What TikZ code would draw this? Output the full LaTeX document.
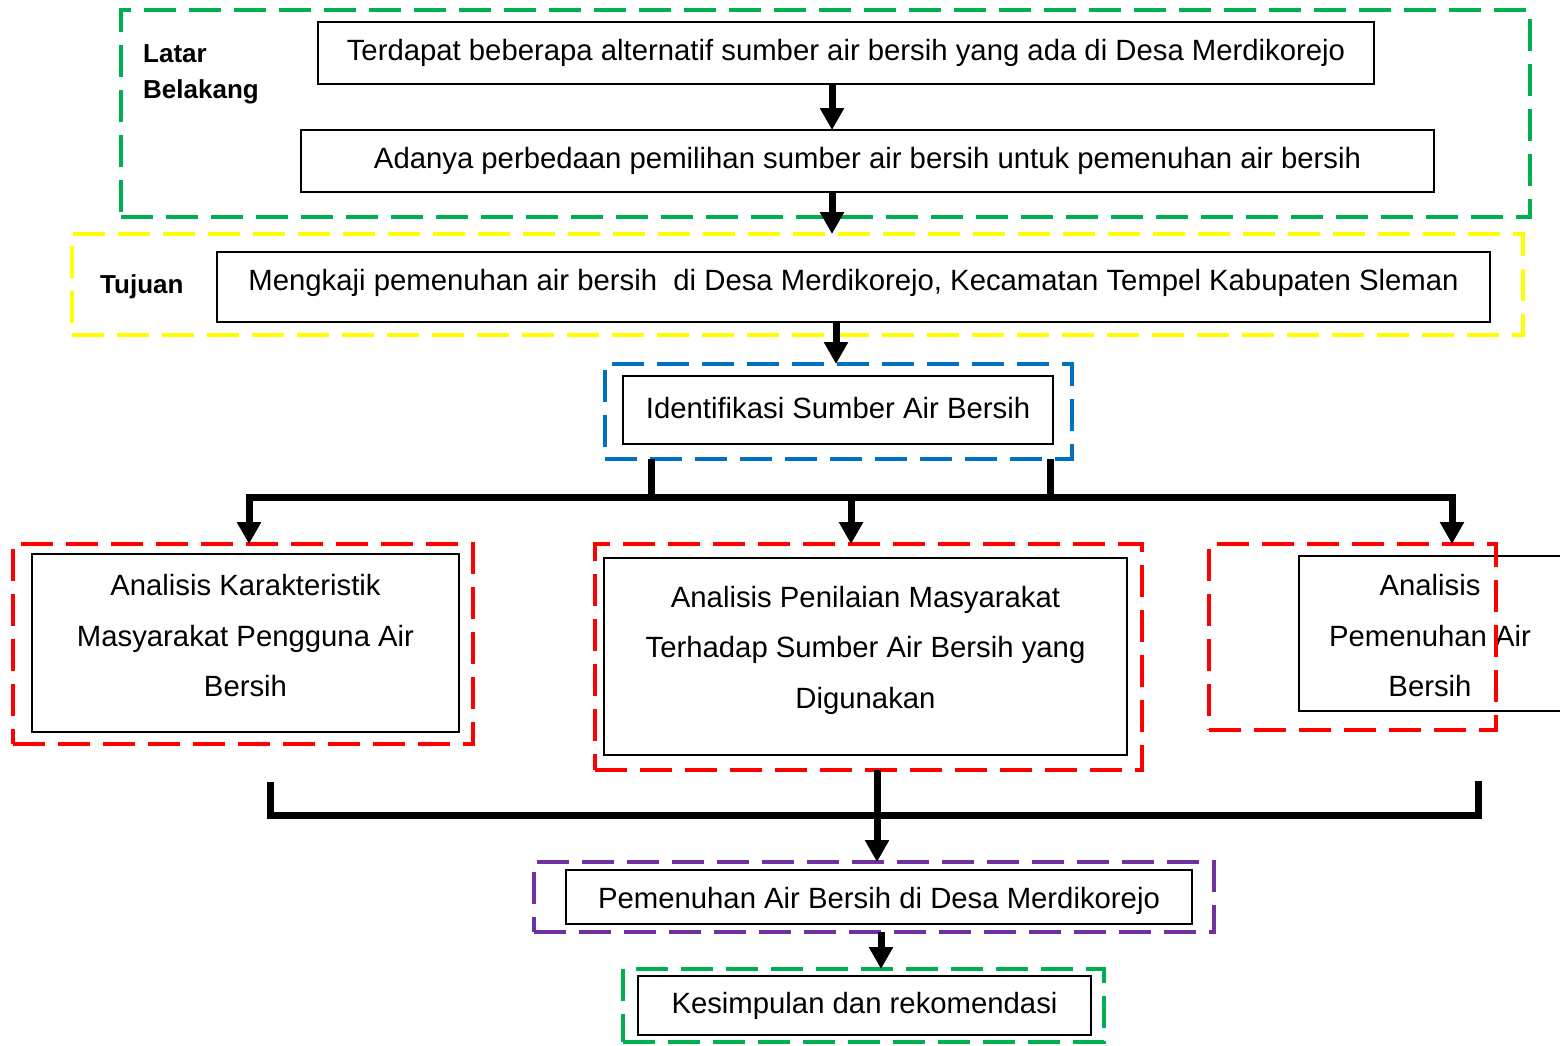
\documentclass[tikz,border=0pt]{standalone}
\usepackage{fontspec}
\setmainfont{Liberation Sans}
\usetikzlibrary{arrows.meta}
\definecolor{cgreen}{HTML}{00B050}
\definecolor{cyellow}{HTML}{FFFF00}
\definecolor{cblue}{HTML}{0070C0}
\definecolor{cred}{HTML}{FF0000}
\definecolor{cpurple}{HTML}{7030A0}
\begin{document}
\begin{tikzpicture}[x=1pt,y=-1pt,
  frame/.style={draw=#1, line width=4pt, dash pattern=on 32pt off 13pt, inner sep=0pt, outer sep=0pt},
  box/.style={draw=black, line width=2.5pt, inner sep=0pt, outer sep=0pt,
    font=\fontsize{29.3}{50.5}\selectfont, align=center},
  txt/.style={inner sep=0pt, font=\fontsize{29.3}{50.5}\selectfont, align=center},
  lbl/.style={inner sep=0pt, font=\fontsize{26}{36}\selectfont\bfseries, align=left, anchor=base west},
  conn/.style={line width=7pt, black},
  arr/.style={conn, -{Triangle[width=23pt,length=22pt]}}]
\useasboundingbox (0,0) rectangle (1560,1045);

% boxes
\node[box, minimum width=1056pt, minimum height=62pt] (b1) at (846,53) {Terdapat beberapa alternatif sumber air bersih yang ada di Desa Merdikorejo};
\node[box, minimum width=1133pt, minimum height=62pt] (b2) at (867.5,161) {Adanya perbedaan pemilihan sumber air bersih untuk pemenuhan air bersih};
\node[box, minimum width=1273pt, minimum height=70pt, text depth=14pt] (b3) at (853.5,287) {Mengkaji pemenuhan air bersih\ \ di Desa Merdikorejo, Kecamatan Tempel Kabupaten Sleman};
\node[box, minimum width=430pt, minimum height=68pt, text depth=4pt] (b4) at (838,410) {Identifikasi Sumber Air Bersih};
\node[box, minimum width=427pt, minimum height=178pt] (b5) at (245.5,643) {};
\node[box, minimum width=523pt, minimum height=197pt] (b6) at (865.5,656.5) {};
\node[box, minimum width=263pt, minimum height=155pt] (b7) at (1430.5,633.5) {};
\node[box, minimum width=626pt, minimum height=54pt, text height=29pt] (b8) at (879,897) {Pemenuhan Air Bersih di Desa Merdikorejo};
\node[box, minimum width=453pt, minimum height=59pt] (b9) at (864.5,1005.5) {Kesimpulan dan rekomendasi};

\node[txt] (t5) at (245.5,636) {Analisis Karakteristik\\Masyarakat Pengguna Air\\Bersih};
\node[txt] (t6) at (865.5,650) {Analisis Penilaian Masyarakat\\Terhadap Sumber Air Bersih yang\\Digunakan};
\node[txt] (t7) at (1430,636) {Analisis\\Pemenuhan Air\\Bersih};

% frames
\node[frame=cgreen, minimum width=1409pt, minimum height=207pt] (f1) at (825.5,113.5) {};
\node[frame=cyellow, minimum width=1451pt, minimum height=101pt] (f2) at (797.5,284.5) {};
\node[frame=cblue, minimum width=467pt, minimum height=95pt] (f3) at (838.5,411.5) {};
\node[frame=cred, minimum width=460pt, minimum height=200pt] (f4) at (243,644) {};
\node[frame=cred, minimum width=547pt, minimum height=226pt] (f5) at (868.5,657) {};
\node[frame=cred, minimum width=287pt, minimum height=186pt] (f6) at (1352.5,637) {};
\node[frame=cpurple, minimum width=680pt, minimum height=70pt] (f7) at (874,897) {};
\node[frame=cgreen, minimum width=481pt, minimum height=73pt] (f8) at (863.5,1005.5) {};

% labels
\node[lbl] (lb1) at (143,98) {Latar\\Belakang};
\node[lbl] (lb2) at (100,293) {Tujuan};

% column coordinates
\coordinate (c1) at (832,0);
\coordinate (c2) at (836,0);
\coordinate (sl) at (651,497);
\coordinate (sr) at (1050,497);
\coordinate (hl) at (249,497);
\coordinate (hm) at (851,497);
\coordinate (hr) at (1452,497);
\coordinate (ul) at (270,782);
\coordinate (ml) at (270,815);
\coordinate (mr) at (1478,815);
\coordinate (ur) at (1478,781);
\coordinate (c3) at (877,0);
\coordinate (c4) at (881,0);

% connectors
\draw[arr] (b1.south -| c1) -- (b2.north -| c1);
\draw[arr] (b2.south -| c1) -- (f2.north -| c1);
\draw[arr] (b3.south -| c2) -- (f3.north -| c2);
\draw[conn] (f3.south -| sl) -- (sl);
\draw[conn] (f3.south -| sr) -- (sr);
\draw[conn] ([xshift=-3.5pt]hl) -- ([xshift=3.5pt]hr);
\draw[arr] (hl) -- (f4.north -| hl);
\draw[arr] (hm) -- (f5.north -| hm);
\draw[arr] (hr) -- (f6.north -| hr);
\draw[conn, line join=miter] (ul) -- (ml) -- (mr) -- (ur);
\draw[arr] (f5.south -| c3) -- (f7.north -| c3);
\draw[arr] (f7.south -| c4) -- (f8.north -| c4);
\end{tikzpicture}
\end{document}
